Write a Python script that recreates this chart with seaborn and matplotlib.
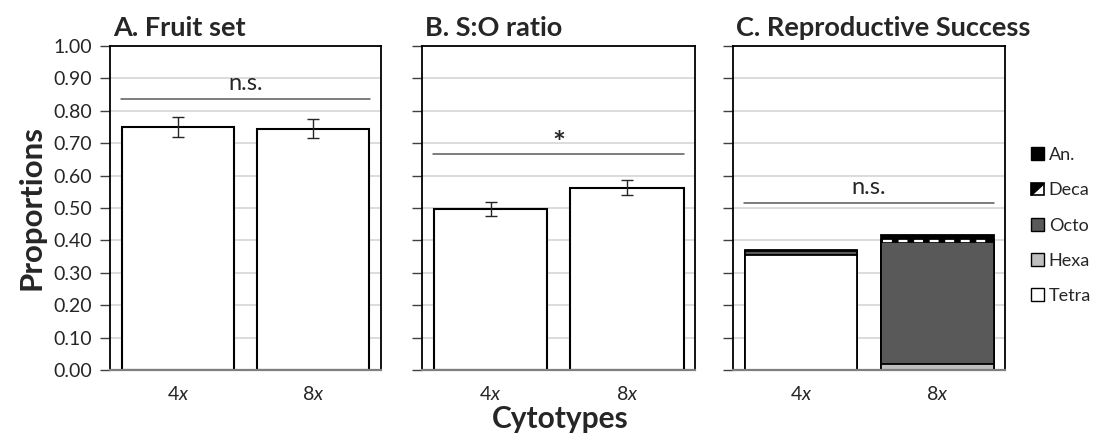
import numpy as np
import pandas as pd
import matplotlib
matplotlib.use("Agg")
import matplotlib.pyplot as plt
import seaborn as sns
from matplotlib.patches import Patch, Rectangle, Polygon
from matplotlib.legend_handler import HandlerBase

# ---- data -------------------------------------------------------------
cytotypes = ["4x", "8x"]
tick_labels = ["4$\\mathit{x}$", "8$\\mathit{x}$"]

fruit_set = [0.750, 0.745]
fruit_set_err = [0.030, 0.030]

so_ratio = [0.497, 0.563]
so_ratio_err = [0.022, 0.022]

# offspring ploidy composition (reproductive success)
tetra = [0.355, 0.000]
hexa = [0.000, 0.018]
octo = [0.012, 0.377]
deca = [0.000, 0.007]
aneu = [0.004, 0.016]

panel_titles = ["A. Fruit set", "B. S:O ratio", "C. Reproductive Success"]
sig_labels = ["n.s.", "*", "n.s."]
sig_heights = [0.835, 0.668, 0.514]

# ---- style ------------------------------------------------------------
sns.set_theme(style="white")
plt.rcParams["font.family"] = ["Lato", "DejaVu Sans"]
plt.rcParams["mathtext.fontset"] = "custom"
plt.rcParams["mathtext.rm"] = "Lato"
plt.rcParams["mathtext.it"] = "Lato:italic"

GRID = "#d9d9d9"
OCTO_C = "#595959"
HEXA_C = "#bfbfbf"
BAR_W = 0.83
EDGE_W = 1.5

fig = plt.figure(figsize=(10.97, 4.44), dpi=100)
bottom, height = 0.1667, 0.7297
axA = fig.add_axes([0.1003, bottom, 0.2470, height])
axB = fig.add_axes([0.3850, bottom, 0.2489, height])
axC = fig.add_axes([0.6682, bottom, 0.2480, height])
axes = [axA, axB, axC]


def simple_bars(ax, values, errs):
    sns.barplot(x=cytotypes, y=values, ax=ax, color="white", saturation=1,
                edgecolor="black", linewidth=EDGE_W, width=BAR_W, zorder=2)
    ax.errorbar(np.arange(len(values)), values, yerr=errs, fmt="none",
                ecolor="#262626", elinewidth=1, capsize=4, capthick=1, zorder=3)


simple_bars(axA, fruit_set, fruit_set_err)
simple_bars(axB, so_ratio, so_ratio_err)

# stacked bars: draw cumulative totals from the top layer down
cum_tetra = np.array(tetra)
cum_hexa = cum_tetra + np.array(hexa)
cum_octo = cum_hexa + np.array(octo)
cum_deca = cum_octo + np.array(deca)
cum_aneu = cum_deca + np.array(aneu)
layers = [(cum_aneu, "black"), (cum_deca, "black"), (cum_octo, OCTO_C),
          (cum_hexa, HEXA_C), (cum_tetra, "white")]
for cum, col in layers:
    sns.barplot(x=cytotypes, y=cum, ax=axC, color=col, saturation=1,
                edgecolor="black", linewidth=1.3, width=BAR_W, zorder=2)
# dashed pattern for the decaploid segment
for i, d in enumerate(deca):
    if d > 0:
        ymid = cum_octo[i] + d / 2
        axC.hlines(ymid, i - BAR_W / 2 + 0.02, i + BAR_W / 2 - 0.02,
                   colors="white", linestyles=(0, (4, 3)), lw=1.6, zorder=4)

for k, ax in enumerate(axes):
    ax.set_ylim(0, 1.0)
    ax.set_xlim(-0.5, 1.5)
    ax.set_yticks(np.round(np.arange(0, 1.01, 0.1), 2))
    ax.yaxis.set_major_formatter(matplotlib.ticker.FormatStrFormatter("%.2f"))
    ax.yaxis.grid(True, color=GRID, lw=1.3)
    ax.set_axisbelow(True)
    ax.tick_params(axis="y", direction="out", length=7, width=1,
                   color="#404040", labelsize=14, pad=6,
                   labelleft=(k == 0), left=True)
    ax.set_xticks(range(len(cytotypes)))
    ax.set_xticklabels(tick_labels, fontsize=14)
    ax.tick_params(axis="x", length=0, pad=11)
    ax.set_xlabel("")
    ax.set_ylabel("")
    for s in ["left", "right", "top"]:
        ax.spines[s].set_visible(True)
        ax.spines[s].set_color("black")
        ax.spines[s].set_linewidth(1.3)
    ax.spines["bottom"].set_color("#7f7f7f")
    ax.spines["bottom"].set_linewidth(1.6)
    ax.set_title(panel_titles[k], loc="left", fontsize=19.5,
                 fontweight="bold", pad=7, x=0.01)
    # significance bar
    ax.plot([-0.42, 1.42], [sig_heights[k]] * 2, color="#595959", lw=1.1,
            zorder=3)
    if sig_labels[k] == "*":
        ax.text(0.5, sig_heights[k] + 0.03, sig_labels[k], ha="center",
                va="center", fontsize=22, fontweight="bold")
    else:
        ax.text(0.5, sig_heights[k] + 0.05, sig_labels[k], ha="center",
                va="center", fontsize=17)

fig.text(0.029, bottom + height / 2, "Proportions", rotation=90,
         ha="center", va="center", fontsize=22.5, fontweight="bold")
fig.text(0.511, 0.056, "Cytotypes", ha="center", va="center",
         fontsize=21.5, fontweight="bold")


# legend with a half-filled swatch for the decaploid class
class DecaHandler(HandlerBase):
    def create_artists(self, legend, orig_handle, xdescent, ydescent,
                       width, height, fontsize, trans):
        s = min(width, height)
        x0 = -xdescent + (width - s) / 2
        y0 = -ydescent + (height - s) / 2
        sq = Rectangle((x0, y0), s, s, facecolor="white", edgecolor="black",
                       lw=1.2, transform=trans)
        tri = Polygon([(x0, y0), (x0, y0 + s), (x0 + s, y0 + s)],
                      closed=True, facecolor="black", edgecolor="black",
                      lw=0.8, transform=trans)
        return [sq, tri]


class DecaKey:
    pass


handles = [Patch(facecolor="black", edgecolor="black"),
           DecaKey(),
           Patch(facecolor=OCTO_C, edgecolor="black"),
           Patch(facecolor=HEXA_C, edgecolor="black"),
           Patch(facecolor="white", edgecolor="black")]
labels = ["An.", "Deca", "Octo", "Hexa", "Tetra"]
fig.legend(handles, labels, loc="upper left", bbox_to_anchor=(0.940, 0.669),
           frameon=False, fontsize=13, handlelength=0.72, handleheight=0.72,
           handletextpad=0.25, labelspacing=1.07, borderpad=0,
           borderaxespad=0, handler_map={DecaKey: DecaHandler()})

fig.savefig("out.png", dpi=100)
